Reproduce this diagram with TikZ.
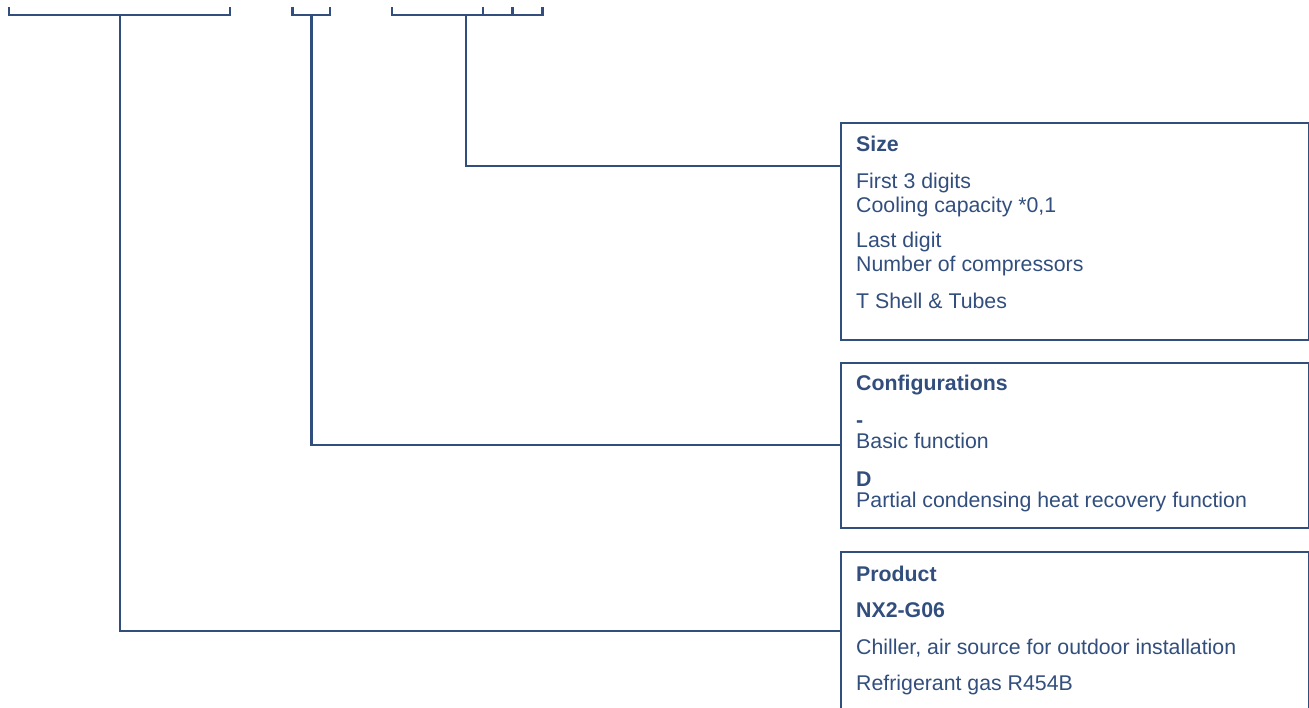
\documentclass[tikz,border=0pt]{standalone}
\usepackage{fontspec}
\setmainfont{Liberation Sans}
\definecolor{codeblue}{RGB}{49,78,125}

\begin{document}
\begin{tikzpicture}[x=1pt,y=-1pt]
  \tikzstyle{codeline}=[draw=codeblue, line width=2.3pt]
  \tikzstyle{codebox}=[draw=codeblue, line width=2.3pt, anchor=north west, inner sep=0pt, minimum width=468pt]
  \tikzstyle{codetext}=[anchor=base west, inner sep=0pt, text=codeblue, font=\fontsize{21.3}{24}\selectfont]
  \tikzstyle{codehead}=[codetext, font=\fontsize{21.3}{24}\selectfont\bfseries]

    \useasboundingbox (0,0) rectangle (1309,708);

    % brackets over the type code
    \draw[codeline] (9,7) -- (9,15) -- (230,15) -- (230,7);
    \coordinate (prodtop) at (120,15);
    \draw[codeline] (292.5,7) -- (292.5,15) -- (330,15) -- (330,7);
    \coordinate (conftop) at (311.5,15);
    \draw[codeline] (392,7) -- (392,15) -- (542.5,15) -- (542.5,7);
    \draw[codeline] (483,7) -- (483,15);
    \draw[codeline] (512.5,7) -- (512.5,15);
    \coordinate (sizetop) at (466,15);

    % size
    \node[codebox, minimum height=217pt] (sizebox) at (840,122) {};
    \node[codehead] (sizehead) at (856,152) {Size};
    \node[codetext] (sizefirst) at (856,189) {First 3 digits};
    \node[codetext] (sizecap) at (856,213) {Cooling capacity *0,1};
    \node[codetext] (sizelast) at (856,248) {Last digit};
    \node[codetext] (sizecomp) at (856,272) {Number of compressors};
    \node[codetext] (sizeshell) at (856,309) {T Shell \& Tubes};
    \coordinate (sizein) at (840,166);
    \draw[codeline] (sizetop) |- (sizein);

    % configurations
    \node[codebox, minimum height=165pt] (confbox) at (840,362) {};
    \node[codehead] (confhead) at (856,391) {Configurations};
    \node[codehead] (confdash) at (856,427) {-};
    \node[codetext] (confbasic) at (856,448) {Basic function};
    \node[codehead] (confd) at (856,486) {D};
    \node[codetext] (confpart) at (856,507) {Partial condensing heat recovery function};
    \coordinate (confin) at (840,445);
    \draw[codeline] (conftop) |- (confin);

    % product
    \node[codebox, minimum height=200pt] (prodbox) at (840,551) {};
    \node[codehead] (prodhead) at (856,581) {Product};
    \node[codehead] (prodname) at (856,617) {NX2-G06};
    \node[codetext] (prodchill) at (856,654) {Chiller, air source for outdoor installation};
    \node[codetext] (prodgas) at (856,690) {Refrigerant gas R454B};
    \coordinate (prodin) at (840,631);
    \draw[codeline] (prodtop) |- (prodin);

  \end{tikzpicture}
\end{document}
